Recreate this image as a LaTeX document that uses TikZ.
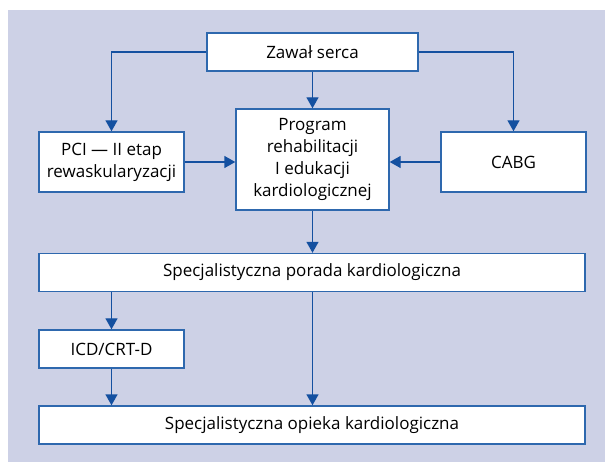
\documentclass[tikz,border=0pt]{standalone}
\usepackage{fontspec}
\setmainfont{Open Sans}
\usetikzlibrary{arrows.meta}
\definecolor{bgc}{HTML}{CDD1E6}
\definecolor{lnc}{HTML}{1450A0}
\definecolor{bxc}{HTML}{2E68AE}
\begin{document}
\begin{tikzpicture}[x=1pt,y=-1pt,
  box/.style={draw=bxc,line width=1.4pt,fill=white,inner sep=0pt,align=center,font=\fontsize{17}{22}\selectfont},
  conn/.style={draw=lnc,line width=1.4pt,-{Triangle[length=11pt,width=12pt]}}]
\useasboundingbox (0,0) rectangle (605,462);
\fill[bgc] (8,10) rectangle (605,462);
\node[box,minimum width=211pt,minimum height=38pt] (zs) at (312.5,52) {Zawał serca};
\node[box,minimum width=145pt,minimum height=60pt] (pci) at (111.5,162) {PCI — II etap\\rewaskularyzacji};
\node[box,minimum width=153pt,minimum height=101pt] (prog) at (312.5,159.5) {Program\\rehabilitacji\\I edukacji\\kardiologicznej};
\node[box,minimum width=145pt,minimum height=60pt] (cabg) at (513.5,162) {CABG};
\node[box,minimum width=546pt,minimum height=38pt] (por) at (312,272.5) {Specjalistyczna porada kardiologiczna};
\node[box,minimum width=145pt,minimum height=38pt] (icd) at (111.5,349) {ICD/CRT-D};
\node[box,minimum width=546pt,minimum height=38pt] (opi) at (312,425) {Specjalistyczna opieka kardiologiczna};
\draw[conn] (zs.west) -| (pci.north);
\draw[conn] (zs.east) -| (cabg.north);
\draw[conn] (zs.south) -- (prog.north);
\draw[conn] (pci.east) -- (prog.west|-pci.east);
\draw[conn] (cabg.west) -- (prog.east|-cabg.west);
\draw[conn] (prog.south) -- (prog.south|-por.north);
\draw[conn] (por.south-|icd.north) -- (icd.north);
\draw[conn] (icd.south) -- (icd.south|-opi.north);
\draw[conn] (por.south-|prog.south) -- (opi.north-|prog.south);
\end{tikzpicture}
\end{document}
